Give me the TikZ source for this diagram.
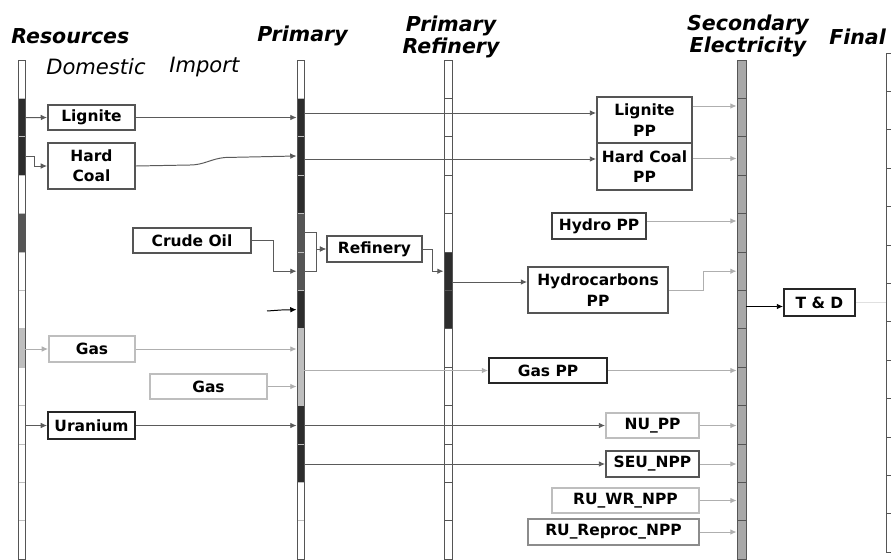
\documentclass[tikz,border=0pt]{standalone}
\usepackage{fontspec}
\setmainfont{DejaVu Sans}
\usepackage{xcolor}
\definecolor{dark}{RGB}{45,45,45}
\definecolor{mid}{RGB}{85,85,85}
\definecolor{pale}{RGB}{190,190,190}
\definecolor{elec}{RGB}{168,168,168}
\definecolor{wire}{RGB}{90,90,90}
\definecolor{wirelight}{RGB}{175,175,175}
\usepackage{tikz}
\usetikzlibrary{arrows.meta, positioning, calc, fit}

\begin{document}
\begin{tikzpicture}[x=0.025cm, y=-0.025cm,
        head/.style={font=\fontsize{14.6}{16}\selectfont\bfseries\itshape, inner sep=0, align=center},
        sub/.style={font=\fontsize{15}{16}\selectfont\itshape, inner sep=0},
        bar/.style={draw=mid, line width=0.6pt, inner sep=0},
        tick/.style={draw=pale, line width=0.5pt},
        dtick/.style={draw=mid, line width=0.5pt},
        box/.style={rectangle, draw=mid, fill=white, line width=1.3pt, inner sep=0, align=center, font=\fontsize{11}{14.5}\selectfont\bfseries, minimum height=0.625cm},
        pbox/.style={box, draw=pale},
        kbox/.style={box, draw=black!85},
        flow/.style={-{Latex[length=4.5pt,width=4pt]}, wire, line width=0.7pt},
        lflow/.style={flow, wirelight},
        kflow/.style={flow, black}
    ]
        \clip (0,0) rectangle (891,559);

        \foreach \i in {0,...,12} {
            \coordinate (r\i) at (0,{79.2+38.4*\i});
        }

        % bar fillings
        \foreach \c [count=\i from 0] in {white,dark,dark,white,mid,white,white,pale,white,white,white,white,white}
            \fill[\c] (18,{60+38.4*\i}) rectangle ++(7,38.4);
        \foreach \c [count=\i from 0] in {white,dark,dark,dark,mid,mid,dark,pale,pale,dark,dark,white,white}
            \fill[\c] (297,{60+38.4*\i}) rectangle ++(7,38.4);
        \foreach \c [count=\i from 0] in {white,white,white,white,white,dark,dark,white,white,white,white,white,white}
            \fill[\c] (444,{60+38.4*\i}) rectangle ++(8,38.4);
        \fill[elec] (737,60) rectangle (746,559);

        \foreach \i in {1,...,12} {
            \draw[tick] (18,{60+38.4*\i}) -- ++(7,0);
            \draw[tick] (297,{60+38.4*\i}) -- ++(7,0);
            \draw[dtick] (444,{60+38.4*\i}) -- ++(8,0);
            \draw[dtick] (737,{60+38.4*\i}) -- ++(9,0);
            \draw[dtick] (886,{53+38.4*\i}) -- ++(10,0);
        }

        \node[bar, fit={(18,60)(25,559)}] (res) {};
        \node[bar, fit={(297,60)(304,559)}] (prim) {};
        \node[bar, fit={(444,60)(452,559)}] (refb) {};
        \node[bar, fit={(737,60)(746,559)}] (sec) {};
        \node[bar, fit={(886,53)(896,552)}] (fin) {};

        \node[head, anchor=west] (hres) at (11,36) {Resources};
        \node[sub, anchor=west] (hdom) at (46,67) {Domestic};
        \node[sub, anchor=west] (himp) at (169,67) {Import};
        \node[head, anchor=west] (hprim) at (257,36) {Primary};
        \node[head] (hrefb) at (451,37) {Primary\\Refinery};
        \node[head] (hsec) at (748,36) {Secondary\\Electricity};
        \node[head, anchor=west] (hfin) at (829,37) {Final};

        \node[box, minimum width=2.175cm] (lig) at (91.5,117.5) {Lignite};
        \node[box, minimum width=2.175cm, minimum height=1.15cm] (hc) at (91.5,166) {Hard\\Coal};
        \node[box, minimum width=2.95cm] (crude) at (192,240.5) {Crude Oil};
        \node[pbox, minimum width=2.15cm, minimum height=0.65cm] (gasd) at (92,349) {Gas};
        \node[pbox, minimum width=2.925cm] (gasi) at (208.5,386.5) {Gas};
        \node[kbox, minimum width=2.175cm, minimum height=0.675cm] (uran) at (91.5,425.5) {Uranium};
        \node[box, minimum width=2.375cm, minimum height=0.65cm] (refin) at (374.5,249) {Refinery};
        \node[box, minimum width=2.375cm, minimum height=1.15cm] (ligpp) at (644.5,120) {Lignite\\PP};
        \node[box, minimum width=2.375cm, minimum height=1.175cm] (hcpp) at (644.5,166.5) {Hard Coal\\PP};
        \node[box, draw=black!75, minimum width=2.35cm, minimum height=0.65cm] (hydro) at (599,226) {Hydro PP};
        \node[box, minimum width=3.5cm, minimum height=1.15cm] (hcarb) at (598,290) {Hydrocarbons\\PP};
        \node[kbox, minimum width=2.95cm] (gaspp) at (548,370.5) {Gas PP};
        \node[pbox, minimum width=2.325cm] (nupp) at (652.5,425.5) {NU\_PP};
        \node[box, minimum width=2.325cm, minimum height=0.65cm] (seu) at (652.5,464) {SEU\_NPP};
        \node[pbox, minimum width=3.675cm] (ruwr) at (625.5,500.5) {RU\_WR\_NPP};
        \node[box, draw=black!45, minimum width=4.275cm, minimum height=0.65cm] (rurep) at (613.5,532) {RU\_Reproc\_NPP};
        \node[kbox, minimum width=1.775cm, minimum height=0.675cm] (td) at (819.5,302.5) {T \& D};

        \coordinate (loose) at (267,311);
        \coordinate (lpin) at ($(ligpp.west)+(0,-7)$);
        \coordinate (hpin) at ($(hcpp.west)+(0,-7.5)$);
        \coordinate (hcin) at ($(hcarb.west)+(0,-8)$);
        \coordinate (lpout) at ($(ligpp.east)+(0,-14)$);
        \coordinate (hpout) at ($(hcpp.east)+(0,-8)$);
        \coordinate (hyout) at ($(hydro.east)+(0,-5)$);
        \coordinate (tdin) at ($(td.west)+(0,4)$);

        % resources
        \draw[flow] (res.east |- r1) -- (lig.west);
        \draw[flow] (res.east |- r2) -- ++(9,0) |- (hc.west);
        \draw[lflow] (res.east |- gasd.west) -- (gasd.west);
        \draw[flow] (res.east |- uran.west) -- (uran.west);

        % primary
        \draw[flow] (lig.east) -- (lig.east -| prim.west);
        \draw[flow] (hc.east) -- (190,165) to[out=0,in=185] (225,157.5) -- (prim.west |- r2);
        \draw[flow] (crude.east) -- ++(22,0) |- (prim.west |- r5);
        \draw[kflow] (loose) -- ++(14,-1) -- (prim.west |- r6);
        \draw[lflow] (gasd.east) -- (gasd.east -| prim.west);
        \draw[lflow] (gasi.east) -- (gasi.east -| prim.west);
        \draw[flow] (uran.east) -- (uran.east -| prim.west);

        % refinery
        \draw[flow] (prim.east |- r4) -- ++(12,0) |- (refin.west);
        \draw[flow] (prim.east |- r5) -- ++(12,0) |- (refin.west);
        \draw[flow] (refin.east) -- ++(10,0) |- (refb.west |- r5);
        \draw[flow] (refb.east |- hcin) -- (hcin);

        % power plants
        \draw[flow] (prim.east |- lpin) -- (lpin);
        \draw[flow] (prim.east |- hpin) -- (hpin);
        \draw[lflow] (prim.east |- gaspp.west) -- (gaspp.west);
        \draw[flow] (prim.east |- nupp.west) -- (nupp.west);
        \draw[flow] (prim.east |- seu.west) -- (seu.west);

        % secondary electricity
        \draw[lflow] (lpout) -- (lpout -| sec.west);
        \draw[lflow] (hpout) -- (hpout -| sec.west);
        \draw[lflow] (hyout) -- (hyout -| sec.west);
        \draw[lflow] (hcarb.east) -- ++(35,0) |- (sec.west |- r5);
        \draw[lflow] (gaspp.east) -- (gaspp.east -| sec.west);
        \foreach \x in {nupp,seu,ruwr,rurep} {
            \draw[lflow] (\x.east) -- (\x.east -| sec.west);
        }
        \draw[kflow] (sec.east |- tdin) -- (tdin);
        \draw[black!12, line width=0.6pt] (td.east) -- (td.east -| fin.west);
    \end{tikzpicture}
\end{document}
